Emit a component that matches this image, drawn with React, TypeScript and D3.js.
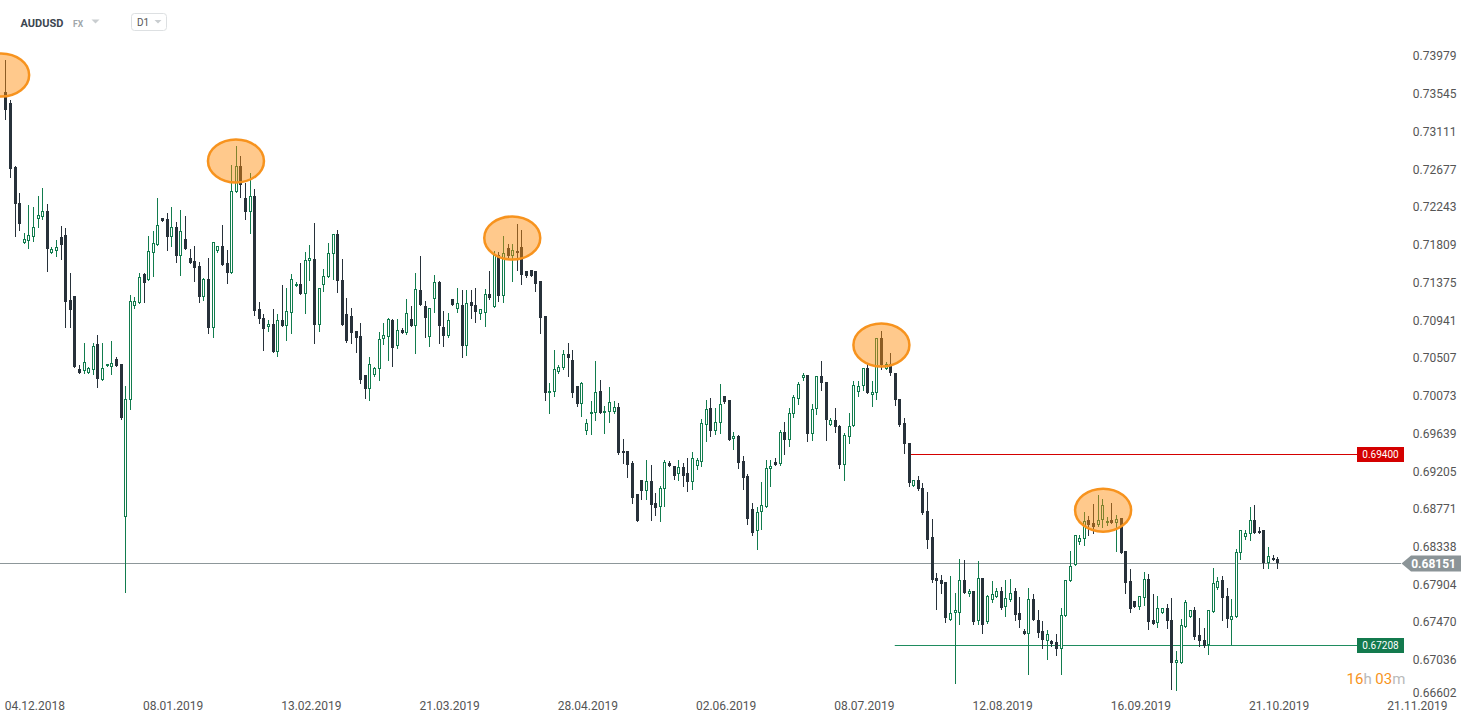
import React from "react";
import * as d3 from "d3";

// OHLC data (daily AUDUSD)
const opens = [
  0.7356,0.7344,0.7270,0.7229,0.7183,0.7185,0.7190,0.7211,0.7213,0.7220,
  0.7172,0.7174,0.7190,0.7192,0.7117,0.7122,0.7038,0.7036,0.7034,0.7037,
  0.7067,0.7026,0.7041,0.7040,0.7050,0.7044,0.6868,0.7003,0.7111,0.7114,
  0.7147,0.7140,0.7172,0.7181,0.7212,0.7210,0.7190,0.7201,0.7168,0.7187,
  0.7166,0.7162,0.7156,0.7121,0.7141,0.7085,0.7174,0.7180,0.7160,0.7149,
  0.7241,0.7271,0.7235,0.7218,0.7237,0.7107,0.7097,0.7086,0.7090,0.7058,
  0.7094,0.7088,0.7103,0.7133,0.7136,0.7124,0.7162,0.7164,0.7089,0.7135,
  0.7144,0.7170,0.7193,0.7140,0.7101,0.7099,0.7082,0.7076,0.7031,0.7015,
  0.7031,0.7038,0.7072,0.7075,0.7094,0.7064,0.7083,0.7080,0.7095,0.7088,
  0.7129,0.7111,0.7075,0.7118,0.7138,0.7086,0.7076,0.7118,0.7107,0.7112,
  0.7065,0.7115,0.7112,0.7101,0.7103,0.7124,0.7109,0.7169,0.7122,0.7177,
  0.7168,0.7174,0.7178,0.7151,0.7152,0.7151,0.7139,0.7099,0.7011,0.7012,
  0.7035,0.7039,0.7055,0.7048,0.7018,0.6998,0.6967,0.6986,0.6987,0.7013,
  0.6987,0.6989,0.6989,0.6994,0.6944,0.6944,0.6930,0.6894,0.6911,0.6898,
  0.6909,0.6884,0.6879,0.6900,0.6930,0.6927,0.6917,0.6925,0.6918,0.6908,
  0.6926,0.6931,0.6974,0.6993,0.6967,0.6976,0.7007,0.7002,0.6958,0.6961,
  0.6932,0.6915,0.6877,0.6852,0.6874,0.6880,0.6923,0.6931,0.6929,0.6966,
  0.6956,0.6986,0.7004,0.7028,0.7031,0.6963,0.6992,0.7030,0.7023,0.6974,
  0.6980,0.6973,0.6928,0.6960,0.6972,0.7012,0.7018,0.7039,0.7008,0.7010,
  0.7074,0.7038,0.7044,0.7034,0.7004,0.6976,0.6953,0.6903,0.6910,0.6901,
  0.6875,0.6845,0.6798,0.6795,0.6793,0.6750,0.6758,0.6758,0.6795,0.6779,
  0.6783,0.6748,0.6798,0.6747,0.6773,0.6776,0.6783,0.6764,0.6773,0.6783,
  0.6757,0.6737,0.6734,0.6774,0.6750,0.6737,0.6725,0.6725,0.6724,0.6716,
  0.6754,0.6794,0.6813,0.6839,0.6843,0.6864,0.6861,0.6859,0.6864,0.6861,
  0.6864,0.6861,0.6867,0.6829,0.6794,0.6771,0.6765,0.6775,0.6797,0.6749,
  0.6746,0.6758,0.6763,0.6749,0.6700,0.6700,0.6742,0.6753,0.6761,0.6732,
  0.6727,0.6721,0.6759,0.6786,0.6795,0.6777,0.6750,0.6753,0.6826,0.6845,
  0.6848,0.6864,0.6852,0.6853,0.6815,0.6821,0.6820,
];
const highs = [
  0.7393,0.7347,0.7271,0.7240,0.7194,0.7227,0.7224,0.7237,0.7246,0.7228,
  0.7178,0.7186,0.7202,0.7200,0.7148,0.7122,0.7043,0.7068,0.7040,0.7068,
  0.7077,0.7068,0.7044,0.7070,0.7052,0.7044,0.7019,0.7123,0.7121,0.7148,
  0.7148,0.7191,0.7197,0.7235,0.7212,0.7217,0.7224,0.7207,0.7221,0.7214,
  0.7176,0.7180,0.7161,0.7143,0.7166,0.7184,0.7180,0.7204,0.7175,0.7273,
  0.7294,0.7283,0.7252,0.7263,0.7245,0.7115,0.7101,0.7094,0.7107,0.7101,
  0.7135,0.7131,0.7147,0.7138,0.7160,0.7173,0.7181,0.7206,0.7131,0.7153,
  0.7183,0.7193,0.7198,0.7165,0.7120,0.7108,0.7082,0.7091,0.7031,0.7052,
  0.7040,0.7081,0.7091,0.7097,0.7096,0.7096,0.7085,0.7118,0.7110,0.7148,
  0.7168,0.7116,0.7108,0.7146,0.7139,0.7105,0.7103,0.7118,0.7131,0.7129,
  0.7129,0.7129,0.7131,0.7107,0.7130,0.7151,0.7174,0.7173,0.7191,0.7182,
  0.7182,0.7205,0.7198,0.7151,0.7152,0.7151,0.7139,0.7099,0.7022,0.7060,
  0.7043,0.7060,0.7068,0.7060,0.7018,0.7023,0.6981,0.7001,0.7047,0.7025,
  0.6996,0.7017,0.7001,0.6999,0.6958,0.6944,0.6932,0.6894,0.6911,0.6933,
  0.6928,0.6895,0.6903,0.6933,0.6932,0.6927,0.6934,0.6930,0.6936,0.6943,
  0.6936,0.6981,0.7002,0.7005,0.6993,0.7021,0.7007,0.7002,0.6966,0.6962,
  0.6938,0.6917,0.6884,0.6880,0.6908,0.6934,0.6933,0.6936,0.6968,0.6977,
  0.6993,0.7008,0.7023,0.7034,0.7031,0.6998,0.7030,0.7047,0.7023,0.6982,
  0.6993,0.6974,0.6964,0.6987,0.7024,0.7024,0.7039,0.7044,0.7024,0.7074,
  0.7082,0.7046,0.7056,0.7034,0.7004,0.6982,0.6953,0.6910,0.6915,0.6907,
  0.6897,0.6866,0.6803,0.6801,0.6793,0.6800,0.6781,0.6820,0.6818,0.6785,
  0.6783,0.6817,0.6798,0.6778,0.6794,0.6786,0.6787,0.6795,0.6797,0.6786,
  0.6776,0.6739,0.6786,0.6779,0.6761,0.6748,0.6738,0.6727,0.6733,0.6763,
  0.6795,0.6829,0.6847,0.6847,0.6874,0.6869,0.6883,0.6893,0.6889,0.6868,
  0.6884,0.6870,0.6867,0.6829,0.6808,0.6771,0.6777,0.6805,0.6802,0.6779,
  0.6777,0.6763,0.6768,0.6775,0.6714,0.6751,0.6773,0.6761,0.6765,0.6752,
  0.6740,0.6761,0.6809,0.6799,0.6800,0.6786,0.6774,0.6831,0.6853,0.6853,
  0.6880,0.6882,0.6857,0.6853,0.6834,0.6824,0.6822,
];
const lows = [
  0.7326,0.7259,0.7191,0.7198,0.7183,0.7177,0.7185,0.7201,0.7211,0.7151,
  0.7171,0.7168,0.7165,0.7086,0.7086,0.7040,0.7034,0.7034,0.7033,0.7032,
  0.7017,0.7026,0.7041,0.7032,0.7042,0.6981,0.6782,0.6992,0.7108,0.7114,
  0.7115,0.7140,0.7145,0.7181,0.7208,0.7175,0.7179,0.7161,0.7146,0.7176,
  0.7160,0.7139,0.7115,0.7117,0.7080,0.7075,0.7173,0.7158,0.7137,0.7149,
  0.7241,0.7236,0.7211,0.7194,0.7100,0.7091,0.7060,0.7082,0.7058,0.7053,
  0.7088,0.7071,0.7079,0.7133,0.7124,0.7103,0.7140,0.7068,0.7082,0.7128,
  0.7144,0.7142,0.7127,0.7089,0.7069,0.7068,0.7058,0.7022,0.7005,0.7002,
  0.7030,0.7026,0.7067,0.7048,0.7041,0.7062,0.7080,0.7078,0.7088,0.7057,
  0.7112,0.7075,0.7065,0.7104,0.7068,0.7064,0.7075,0.7112,0.7104,0.7052,
  0.7054,0.7097,0.7092,0.7096,0.7087,0.7118,0.7109,0.7116,0.7115,0.7167,
  0.7139,0.7152,0.7136,0.7144,0.7145,0.7128,0.7080,0.7003,0.6988,0.7007,
  0.7034,0.7038,0.7030,0.7006,0.6995,0.6984,0.6963,0.6963,0.6979,0.6987,
  0.6964,0.6977,0.6988,0.6940,0.6930,0.6914,0.6884,0.6863,0.6889,0.6889,
  0.6865,0.6870,0.6863,0.6881,0.6926,0.6912,0.6911,0.6903,0.6898,0.6900,
  0.6923,0.6927,0.6955,0.6961,0.6963,0.6964,0.6999,0.6956,0.6946,0.6924,
  0.6900,0.6860,0.6847,0.6831,0.6854,0.6879,0.6903,0.6928,0.6928,0.6940,
  0.6950,0.6983,0.6998,0.7025,0.6955,0.6957,0.6986,0.7014,0.6957,0.6974,
  0.6966,0.6924,0.6910,0.6953,0.6972,0.7007,0.7014,0.7010,0.6996,0.7004,
  0.7038,0.7038,0.7031,0.6997,0.6972,0.6942,0.6903,0.6903,0.6899,0.6871,
  0.6832,0.6793,0.6762,0.6780,0.6747,0.6750,0.6677,0.6745,0.6781,0.6777,
  0.6745,0.6745,0.6735,0.6746,0.6770,0.6776,0.6762,0.6754,0.6771,0.6750,
  0.6742,0.6734,0.6688,0.6749,0.6730,0.6717,0.6705,0.6720,0.6709,0.6687,
  0.6754,0.6794,0.6813,0.6837,0.6836,0.6847,0.6850,0.6858,0.6857,0.6859,
  0.6861,0.6829,0.6827,0.6780,0.6759,0.6765,0.6762,0.6767,0.6739,0.6745,
  0.6742,0.6758,0.6740,0.6670,0.6669,0.6700,0.6742,0.6753,0.6728,0.6720,
  0.6719,0.6710,0.6759,0.6785,0.6750,0.6742,0.6722,0.6753,0.6820,0.6843,
  0.6841,0.6849,0.6849,0.6809,0.6809,0.6819,0.6809,
];
const closes = [
  0.7336,0.7268,0.7228,0.7205,0.7188,0.7192,0.7201,0.7215,0.7220,0.7176,
  0.7176,0.7178,0.7181,0.7115,0.7106,0.7040,0.7034,0.7046,0.7039,0.7065,
  0.7027,0.7039,0.7044,0.7045,0.7042,0.6982,0.7004,0.7116,0.7116,0.7144,
  0.7137,0.7174,0.7183,0.7204,0.7208,0.7190,0.7201,0.7168,0.7197,0.7176,
  0.7160,0.7154,0.7121,0.7141,0.7085,0.7184,0.7180,0.7158,0.7149,0.7243,
  0.7271,0.7250,0.7218,0.7237,0.7105,0.7096,0.7084,0.7090,0.7058,0.7094,
  0.7088,0.7105,0.7142,0.7136,0.7124,0.7163,0.7166,0.7089,0.7131,0.7145,
  0.7171,0.7193,0.7139,0.7089,0.7070,0.7080,0.7074,0.7026,0.7015,0.7044,
  0.7039,0.7073,0.7077,0.7095,0.7062,0.7083,0.7080,0.7102,0.7088,0.7130,
  0.7112,0.7097,0.7108,0.7138,0.7087,0.7076,0.7094,0.7112,0.7114,0.7065,
  0.7114,0.7111,0.7104,0.7107,0.7124,0.7120,0.7169,0.7122,0.7172,0.7168,
  0.7175,0.7172,0.7146,0.7145,0.7145,0.7136,0.7097,0.7011,0.7013,0.7038,
  0.7040,0.7055,0.7051,0.7010,0.6998,0.7022,0.6976,0.6989,0.7012,0.6987,
  0.6990,0.7000,0.6994,0.6942,0.6941,0.6928,0.6890,0.6863,0.6898,0.6909,
  0.6882,0.6878,0.6901,0.6931,0.6926,0.6915,0.6925,0.6915,0.6908,0.6936,
  0.6933,0.6976,0.6992,0.6967,0.6977,0.6998,0.7000,0.6957,0.6961,0.6930,
  0.6913,0.6866,0.6850,0.6874,0.6882,0.6924,0.6927,0.6928,0.6966,0.6956,
  0.6987,0.7006,0.7021,0.7031,0.6963,0.6992,0.7030,0.7022,0.6980,0.6980,
  0.6971,0.6928,0.6962,0.6973,0.7020,0.7019,0.7039,0.7010,0.7012,0.7074,
  0.7043,0.7044,0.7033,0.7003,0.6974,0.6952,0.6907,0.6910,0.6900,0.6873,
  0.6842,0.6795,0.6794,0.6791,0.6752,0.6758,0.6761,0.6795,0.6781,0.6783,
  0.6747,0.6798,0.6744,0.6777,0.6779,0.6783,0.6763,0.6775,0.6781,0.6755,
  0.6749,0.6734,0.6774,0.6749,0.6735,0.6727,0.6734,0.6722,0.6716,0.6755,
  0.6795,0.6812,0.6847,0.6844,0.6863,0.6859,0.6857,0.6865,0.6882,0.6863,
  0.6861,0.6866,0.6827,0.6792,0.6762,0.6765,0.6777,0.6797,0.6747,0.6745,
  0.6763,0.6763,0.6748,0.6700,0.6704,0.6744,0.6770,0.6761,0.6730,0.6725,
  0.6720,0.6761,0.6792,0.6794,0.6775,0.6751,0.6754,0.6828,0.6853,0.6849,
  0.6864,0.6850,0.6850,0.6815,0.6823,0.6819,0.68151,
];

// Price axis tick labels
const priceTicks = [
  0.73979, 0.73545, 0.73111, 0.72677, 0.72243, 0.71809, 0.71375, 0.70941,
  0.70507, 0.70073, 0.69639, 0.69205, 0.68771, 0.68338, 0.67904, 0.6747,
  0.67036, 0.66602,
];
// Date axis labels and the candle position (index) they sit at
const dateLabels = [
  "04.12.2018", "08.01.2019", "13.02.2019", "21.03.2019", "28.04.2019",
  "02.06.2019", "08.07.2019", "12.08.2019", "16.09.2019", "21.10.2019",
  "21.11.2019",
];
const dateLabelIndex = [6.4, 36.4, 66.4, 96.4, 126.4, 156.4, 186.4, 216.4, 246.4, 276.4, 306.4];

// Horizontal levels (start candle index, price)
const resistanceLevel = 0.694;
const resistanceStart = 196;
const supportLevel = 0.67208;
const supportStart = 193;

// Highlighted tops (candle index, price)
const topsIndex = [-0.9, 50.05, 110.0, 190.1, 238.2];
const topsPrice = [0.73761, 0.72772, 0.71886, 0.70656, 0.68758];

const BULL = "#127c4e";
const BEAR = "#27313a";
const FONT = "Roboto, 'Open Sans', sans-serif";

export default function App() {
  const N = closes.length;
  const x = d3.scaleLinear().domain([0, N - 1]).range([5.3, 1277.3]);
  const y = d3.scaleLinear().domain([0.66602, 0.73979]).range([697.7, 56]);
  const last = closes[N - 1];
  const lastY = Math.round(y(last)) + 0.5;
  const resY = Math.round(y(resistanceLevel)) + 0.5;
  const supY = Math.round(y(supportLevel)) + 0.5;
  const fmt = d3.format(".5f");

  const candles = d3.range(N).map((i) => {
    const cx = Math.round(x(i)) + 0.5;
    const o = opens[i], c = closes[i], h = highs[i], l = lows[i];
    const bull = c >= o;
    const yTop = Math.round(y(Math.max(o, c)));
    const yBot = Math.round(y(Math.min(o, c)));
    const col = bull ? BULL : BEAR;
    return (
      <g key={i}>
        <line x1={cx} x2={cx} y1={Math.round(y(h))} y2={Math.round(y(l)) + 1} stroke={col} strokeWidth={1} />
        {bull ? (
          <rect x={cx - 1} y={yTop + 0.5} width={2} height={Math.max(0, yBot - yTop - 1)} fill="#fff" stroke={col} strokeWidth={1} />
        ) : (
          <rect x={cx - 1.5} y={yTop} width={3} height={Math.max(1, yBot - yTop)} fill={col} />
        )}
      </g>
    );
  });

  return (
    <svg width={1473} height={723} style={{ position: "absolute", left: 0, top: 0, background: "#fff" }} fontFamily={FONT}>
      <rect width={1473} height={723} fill="#fff" />
      {/* header */}
      <text x={20.5} y={27} fontSize={11} fontWeight={700} fill="#3c4650">AUDUSD</text>
      <text x={73} y={26.5} fontSize={8.5} fontWeight={700} fill="#a0a6aa">FX</text>
      <path d="M91.5,19.5 L99.5,19.5 L95.5,23.5 Z" fill="#c9cdd0" />
      <rect x={131.5} y={13.5} width={35} height={17} rx={3} fill="#fff" stroke="#dde0e2" />
      <text x={137} y={25.5} fontSize={10} fill="#555">D1</text>
      <path d="M154.5,20 L161.5,20 L158,23.5 Z" fill="#c9cdd0" />

      {/* level lines */}
      <line x1={0} x2={1401} y1={lastY} y2={lastY} stroke="#8d979a" strokeWidth={1} />
      <line x1={x(resistanceStart)} x2={1357} y1={resY} y2={resY} stroke="#d40000" strokeWidth={1} />
      <line x1={x(supportStart)} x2={1357} y1={supY} y2={supY} stroke="#1f8c5f" strokeWidth={1} />

      {candles}

      {/* highlighted tops */}
      {topsIndex.map((ti, k) => (
        <ellipse key={k} cx={x(ti)} cy={y(topsPrice[k])} rx={28} ry={21.5}
          fill="rgba(255,140,10,0.47)" stroke="#f7931e" strokeWidth={2.5} />
      ))}

      {/* price axis */}
      {priceTicks.map((p, k) => (
        <text key={k} x={1456.5} y={Math.min(y(p), 692.5) + 4.3} fontSize={12} fill="#555" textAnchor="end">
          {fmt(p)}
        </text>
      ))}

      {/* level labels */}
      <rect x={1357} y={resY - 7.5} width={47} height={15} fill="#d40000" />
      <text x={1380.5} y={resY + 3.5} fontSize={10} fill="#fff" textAnchor="middle">{fmt(resistanceLevel)}</text>
      <rect x={1357} y={supY - 7.5} width={47} height={15} fill="#137a4e" />
      <text x={1380.5} y={supY + 3.5} fontSize={10} fill="#fff" textAnchor="middle">{fmt(supportLevel)}</text>

      <path d={`M1401.5,${lastY} L1411,${lastY - 8} L1461,${lastY - 8} L1461,${lastY + 8} L1411,${lastY + 8} Z`} fill="#8b9497" />
      <text x={1456} y={lastY + 4.5} fontSize={12} fontWeight={700} fill="#fff" textAnchor="end">{fmt(last)}</text>

      {/* date axis */}
      {dateLabels.map((d, k) => (
        <text key={d} x={x(dateLabelIndex[k])} y={709.5} fontSize={12} fill="#555" textAnchor="middle">{d}</text>
      ))}

      {/* countdown */}
      <text x={1346.5} y={683.5} fontSize={15}>
        <tspan fill="#f7941d">16</tspan>
        <tspan fill="#b9b9b9">h </tspan>
        <tspan fill="#f7941d">03</tspan>
        <tspan fill="#b9b9b9">m</tspan>
      </text>
    </svg>
  );
}
